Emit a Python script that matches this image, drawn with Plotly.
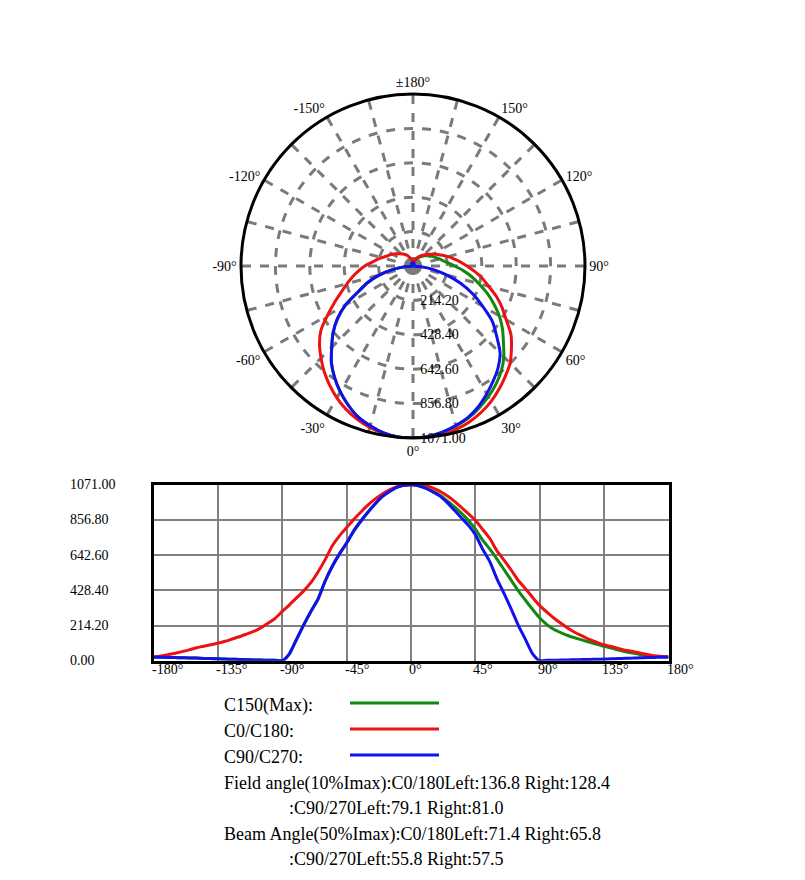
import plotly.graph_objects as go

# ---------------- data ----------------
angles = list(range(-180, 181, 5))

c0_c180 = [22, 28, 36, 45, 55, 66, 79, 88, 97, 107, 118, 132, 146, 162, 178, 200, 228, 258,
           300, 340, 382, 425, 475, 540, 615, 700, 760, 810, 860, 905, 948, 985, 1015, 1040,
           1058, 1068, 1071, 1073, 1068, 1052, 1032, 1005, 973, 935, 895, 855, 800, 745, 670,
           612, 552, 488, 438, 385, 335, 295, 258, 226, 196, 170, 150, 128, 112, 97, 86, 75,
           64, 56, 47, 38, 30, 26, 22]

c90_c270 = [22, 21, 20, 19, 18, 17, 16, 14, 13, 12, 10, 9, 8, 6, 5, 4, 3, 2,
            0, 42, 130, 218, 300, 375, 485, 575, 650, 716, 790, 850, 905, 955, 1000, 1030,
            1055, 1068, 1071, 1065, 1050, 1028, 1003, 965, 919, 872, 825, 767, 680, 604, 500,
            410, 315, 215, 130, 42, 0, 2, 3, 4, 5, 6, 7, 8, 9, 10, 12, 13,
            15, 16, 18, 19, 20, 21, 22]

c150_max = [22, 21, 20, 19, 18, 17, 16, 14, 13, 12, 10, 9, 8, 6, 5, 4, 3, 2,
            0, 42, 130, 218, 300, 375, 485, 575, 650, 716, 790, 850, 905, 955, 1000, 1030,
            1055, 1068, 1071, 1066, 1052, 1032, 1008, 975, 939, 900, 855, 800, 735, 680, 620,
            555, 490, 425, 368, 312, 260, 220, 190, 170, 152, 138, 125, 112, 100, 87, 77, 65,
            55, 46, 38, 32, 27, 25, 22]

radial_ticks = [214.2, 428.4, 642.6, 856.8, 1071.0]
radial_labels = ["214.20", "428.40", "642.60", "856.80", "1071.00"]

angular_ticks = list(range(0, 360, 15))
angular_label_map = {0: "0°", 30: "30°", 60: "60°", 90: "90°", 120: "120°", 150: "150°",
                     180: "±180°", 210: "-150°", 240: "-120°", 270: "-90°", 300: "-60°", 330: "-30°"}
angular_labels = [angular_label_map.get(a, "") for a in angular_ticks]

x_ticks = [-180, -135, -90, -45, 0, 45, 90, 135, 180]
x_labels = [f"{v}°" for v in x_ticks]
y_ticks = [0.0, 214.2, 428.4, 642.6, 856.8, 1071.0]
y_labels = ["0.00", "214.20", "428.40", "642.60", "856.80", "1071.00"]

series_names = ["C150(Max):", "C0/C180:", "C90/C270:"]
series_colors = ["#118811", "#ee1111", "#1111ee"]
info_lines = [
    ("Field angle(10%Imax):C0/180Left:136.8 Right:128.4", 222),
    (":C90/270Left:79.1 Right:81.0", 287),
    ("Beam Angle(50%Imax):C0/180Left:71.4 Right:65.8", 222),
    (":C90/270Left:55.8 Right:57.5", 287),
]

W, H = 805, 880
FONT = "Liberation Serif, Times New Roman, serif"

fig = go.Figure()

series = [c150_max, c0_c180, c90_c270]
for vals, col, name in zip(series, series_colors, series_names):
    fig.add_trace(go.Scatterpolar(theta=angles, r=vals, mode="lines",
                                  line=dict(color=col, width=3, shape="spline", smoothing=0.6),
                                  name=name, showlegend=False, subplot="polar"))
for vals, col, name in zip(series, series_colors, series_names):
    fig.add_trace(go.Scatter(x=angles, y=vals, mode="lines",
                             line=dict(color=col, width=3, shape="spline", smoothing=0.6),
                             name=name, showlegend=False, xaxis="x", yaxis="y"))

def px_x(x):
    return x / W

def px_y(y):
    return 1 - y / H

fig.update_layout(
    width=W, height=H, autosize=False,
    margin=dict(l=0, r=0, t=0, b=0, pad=0, autoexpand=False),
    paper_bgcolor="white", plot_bgcolor="white",
    font=dict(family=FONT, color="black", size=14),
    showlegend=False,
    polar=dict(
        domain=dict(x=[px_x(241), px_x(585)], y=[px_y(438), px_y(94)]),
        bgcolor="white",
        angularaxis=dict(
            rotation=-90, direction="counterclockwise",
            tickmode="array", tickvals=angular_ticks, ticktext=angular_labels,
            showline=True, linecolor="black", linewidth=3,
            showgrid=True, gridcolor="#7a7a7a", gridwidth=2.5, griddash="dash",
            ticks="", tickfont=dict(family=FONT, size=14, color="black"),
        ),
        radialaxis=dict(
            range=[0, 1071], angle=-90, side="counterclockwise",
            tickmode="array", tickvals=radial_ticks, ticktext=radial_labels,
            showline=False, ticks="outside", ticklen=4, tickcolor="rgba(0,0,0,0)",
            showgrid=True, gridcolor="#7a7a7a", gridwidth=2.5, griddash="dash",
            tickfont=dict(family=FONT, size=14, color="black"), tickangle=-90,
        ),
    ),
    xaxis=dict(
        domain=[px_x(153.5), px_x(668.5)], range=[-180, 180], automargin=False,
        tickmode="array", tickvals=x_ticks, showticklabels=False,
        showgrid=True, gridcolor="#808080", gridwidth=2,
        showline=True, linecolor="black", linewidth=3, mirror=True,
        zeroline=False, ticks="", anchor="y",
    ),
    yaxis=dict(
        domain=[px_y(660.7), px_y(484.7)], range=[0, 1071], automargin=False,
        tickmode="array", tickvals=y_ticks,
        showgrid=True, gridcolor="#808080", gridwidth=2,
        showline=True, linecolor="black", linewidth=3, mirror=True,
        zeroline=False, ticks="", showticklabels=False, anchor="x",
    ),
)

annotations = []
for v, lab in zip(y_ticks, y_labels):
    annotations.append(dict(x=px_x(68), xref="paper", xanchor="left", y=v, yref="y",
                            yanchor="middle", text=lab, showarrow=False,
                            font=dict(family=FONT, size=14, color="black")))
for v, lab in zip(x_ticks, x_labels):
    annotations.append(dict(x=v, xref="x", xanchor="left", xshift=-4,
                            y=px_y(669), yref="paper", yanchor="middle",
                            text=lab, showarrow=False,
                            font=dict(family=FONT, size=14, color="black")))

legend_y = [704, 730, 756]
shapes = []
for name, col, yy in zip(series_names, series_colors, legend_y):
    annotations.append(dict(x=px_x(222), y=px_y(yy + 1), xref="paper", yref="paper",
                            xanchor="left", yanchor="middle", text=name, showarrow=False,
                            font=dict(family=FONT, size=18, color="black")))
    shapes.append(dict(type="line", xref="paper", yref="paper",
                       x0=px_x(350), x1=px_x(439), y0=px_y(yy - 1), y1=px_y(yy - 1),
                       line=dict(color=col, width=3)))

info_y = [783, 808, 834, 859]
for (txt, xx), yy in zip(info_lines, info_y):
    annotations.append(dict(x=px_x(xx), y=px_y(yy), xref="paper", yref="paper",
                            xanchor="left", yanchor="middle", text=txt, showarrow=False,
                            font=dict(family=FONT, size=18, color="black")))

fig.update_layout(annotations=annotations, shapes=shapes)

fig.write_html("out.html", config={"displayModeBar": False},
               post_script="document.body.style.margin='0';document.body.style.overflow='hidden';")
